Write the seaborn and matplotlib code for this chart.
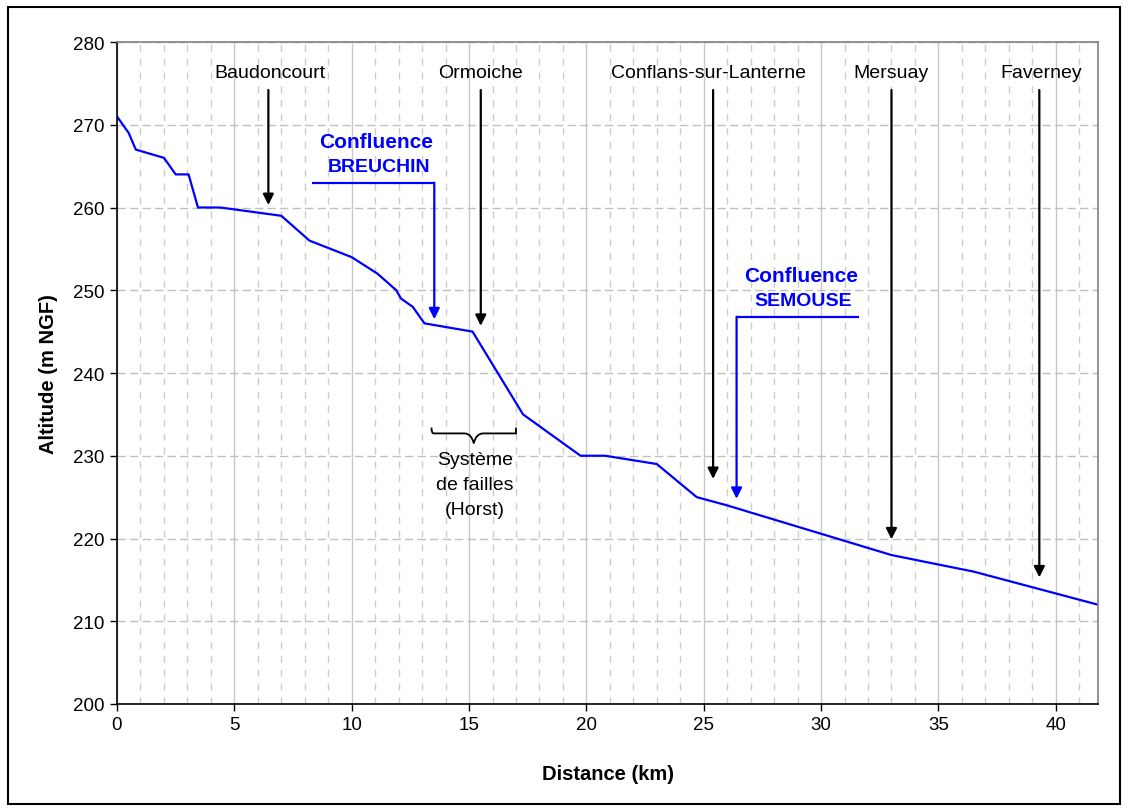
import matplotlib
matplotlib.use("Agg")
import matplotlib.pyplot as plt
import seaborn as sns
import pandas as pd
from matplotlib.patches import Rectangle
from matplotlib.path import Path
from matplotlib.patches import PathPatch
from matplotlib.ticker import MultipleLocator

# ---- data ----
distance_km = [0.0, 0.5, 0.8, 2.0, 2.5, 3.05, 3.45, 4.4, 7.0, 8.2, 10.0, 11.1,
               11.9, 12.1, 12.6, 13.1, 15.15, 17.3, 19.75, 20.8, 23.0, 24.7,
               26.0, 33.0, 36.5, 41.8]
altitude_m = [271, 269, 267, 266, 264, 264, 260, 260, 259, 256, 254, 252,
              250, 249, 248, 246, 245, 235, 230, 230, 229, 225,
              224, 218, 216, 212]

place_names = ["Baudoncourt", "Ormoiche", "Conflans-sur-Lanterne", "Mersuay", "Faverney"]
place_label_x = [6.5, 15.5, 25.2, 32.97, 39.4]
place_arrow_x = [6.45, 15.5, 25.4, 33.0, 39.3]
place_arrow_tip = [260.3, 245.7, 227.2, 219.9, 215.3]

confluence_names = ["BREUCHIN", "SEMOUSE"]
confluence_label_x = [11.06, 29.14]
confluence_label_y = [268.0, 251.8]
confluence_bar_x0 = [8.29, 31.6]
confluence_arrow_x = [13.52, 26.4]
confluence_bar_y = [263.0, 246.8]
confluence_tip_y = [246.5, 224.8]

df = pd.DataFrame({"Distance": distance_km, "Altitude": altitude_m})

sns.set_theme(style="white")
plt.rcParams["font.family"] = ["Liberation Sans", "DejaVu Sans"]
plt.rcParams["text.color"] = "black"
plt.rcParams["axes.labelcolor"] = "black"
plt.rcParams["xtick.color"] = "black"
plt.rcParams["ytick.color"] = "black"

fig = plt.figure(figsize=(11.29, 8.12), dpi=100)
ax = fig.add_axes([117/1129, 1-705/812, (1098-117)/1129, (705-43)/812])

sns.lineplot(data=df, x="Distance", y="Altitude", ax=ax, color="#0000ff",
             linewidth=1.6, sort=False)

ax.set_xlim(0, 41.8)
ax.set_ylim(200, 280)
ax.xaxis.set_major_locator(MultipleLocator(5))
ax.xaxis.set_minor_locator(MultipleLocator(1))
ax.yaxis.set_major_locator(MultipleLocator(10))

ax.grid(which="major", axis="x", color="#c8c8c8", linestyle="-", linewidth=1.0)
ax.grid(which="minor", axis="x", color="#cccccc", linestyle=(0, (5, 5)), linewidth=1.0)
ax.grid(which="major", axis="y", color="#c0c0c0", linestyle=(0, (6, 3)), linewidth=1.0)
ax.set_axisbelow(True)

for side in ["left", "bottom"]:
    ax.spines[side].set_color("black")
    ax.spines[side].set_linewidth(1.2)
for side in ["top", "right"]:
    ax.spines[side].set_color("#808080")
    ax.spines[side].set_linewidth(1.2)

ax.tick_params(axis="both", which="major", direction="out", length=5, width=1,
               color="black", labelcolor="black", labelsize=13.5,
               bottom=True, left=True)
ax.tick_params(axis="both", which="minor", length=0)
ax.tick_params(axis="x", pad=4)
ax.tick_params(axis="y", pad=4)

ax.set_xlabel("Distance (km)", fontsize=14.5, fontweight="bold", labelpad=22,
              color="black")
ax.set_ylabel("Altitude (m NGF)", fontsize=14.5, fontweight="bold", labelpad=11,
              color="black")

# place names with black arrows
for name, lx, axx, tip in zip(place_names, place_label_x, place_arrow_x, place_arrow_tip):
    ax.text(lx, 276.3, name, ha="center", va="center", fontsize=14, color="black")
    ax.annotate("", xy=(axx, tip), xytext=(axx, 274.2),
                arrowprops=dict(arrowstyle="-|>", color="black", lw=1.6,
                                mutation_scale=16, shrinkA=0, shrinkB=0))

# confluences (blue bent arrows)
for name, lx, ly, x0, xa, yb, yt in zip(confluence_names, confluence_label_x,
                                         confluence_label_y, confluence_bar_x0,
                                         confluence_arrow_x, confluence_bar_y,
                                         confluence_tip_y):
    ax.text(lx, ly, "Confluence", ha="center", va="center", fontsize=15,
            fontweight="bold", color="#0000ff")
    ax.text(lx + 0.1, ly - 3.05, name, ha="center", va="center", fontsize=14,
            fontweight="bold", color="#0000ff")
    ax.plot([x0, xa], [yb, yb], color="#0000ff", lw=1.6, solid_capstyle="butt")
    ax.annotate("", xy=(xa, yt), xytext=(xa, yb),
                arrowprops=dict(arrowstyle="-|>", color="#0000ff", lw=1.6,
                                mutation_scale=16, shrinkA=0, shrinkB=0))

# curly brace for the fault system
bx0, bx1, by_top, by_mid, by_tip = 13.4, 17.0, 233.4, 232.7, 231.5
bm = (bx0 + bx1) / 2
verts = [(bx0, by_top), (bx0, by_mid), (bx0 + 0.1, by_mid), (bx0 + 0.4, by_mid),
         (bm - 0.4, by_mid), (bm - 0.1, by_mid), (bm, by_tip),
         (bm + 0.1, by_mid), (bm + 0.4, by_mid),
         (bx1 - 0.4, by_mid), (bx1 - 0.1, by_mid), (bx1, by_mid), (bx1, by_top)]
codes = [Path.MOVETO, Path.CURVE3, Path.CURVE3, Path.LINETO,
         Path.LINETO, Path.CURVE3, Path.CURVE3, Path.CURVE3, Path.CURVE3,
         Path.LINETO, Path.CURVE3, Path.CURVE3, Path.LINETO]
ax.add_patch(PathPatch(Path(verts, codes), facecolor="none", edgecolor="black", lw=1.3))
ax.text(15.25, 226.5, "Système\nde failles\n(Horst)", ha="center", va="center",
        fontsize=14, color="black", linespacing=1.6)

# outer frame
fig.patches.append(Rectangle((8/1129, 1-805/812), (1120-8)/1129, (805-8)/812,
                             transform=fig.transFigure, fill=False,
                             edgecolor="black", linewidth=1.5))

fig.savefig("out.png", dpi=100)
